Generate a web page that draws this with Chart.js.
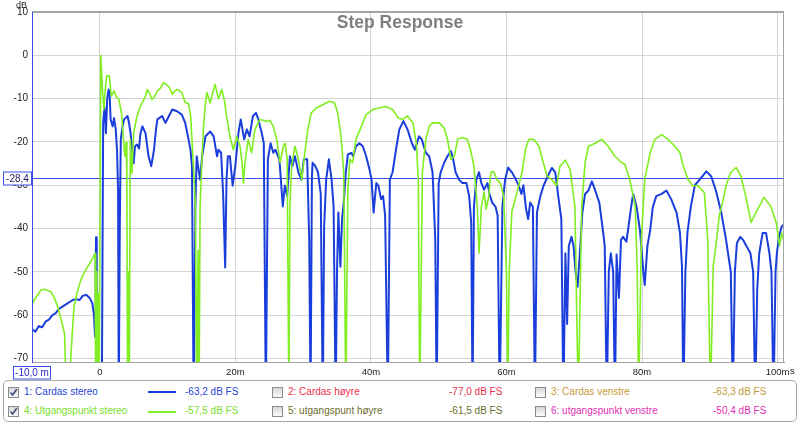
<!DOCTYPE html>
<html><head><meta charset="utf-8">
<script src="https://cdn.jsdelivr.net/npm/chart.js@4.4.1/dist/chart.umd.min.js"></script>
<style>
body{margin:0;background:#fff;font-family:"Liberation Sans",Arial,sans-serif;}
#wrap{position:relative;width:800px;height:425px;overflow:hidden;}
#c{position:absolute;left:0;top:0;}
#legend{position:absolute;left:3px;top:380px;width:792px;height:40px;border:1px solid #a8a8a8;border-radius:5px;}
.it{position:absolute;font-size:10px;white-space:nowrap;line-height:12px;}
.cb{position:absolute;width:9px;height:9px;border:1px solid #8a8a8a;background:linear-gradient(#d8d8d8,#fbfbfb);}
.cb svg{position:absolute;left:0;top:0;}
.ln{position:absolute;height:2px;}
</style></head>
<body>
<div id="wrap">
<canvas id="c" width="800" height="380" style="width:800px;height:380px"></canvas>
<div id="legend"></div>
</div>
<script>
// ---- data (time in ms, level in dB) ----
const blueT = [-10,-9.5,-9,-8.5,-8,-7.5,-7,-6.5,-6,-5.5,-5,-4.5,-4,-3.5,-3,-2.5,-2,-1.5,-1.1,-0.85,-0.7,-0.6,-0.55,-0.45,-0.35,0.3,0.5,0.7,0.9,1.1,1.3,1.45,1.6,1.9,2.1,2.35,2.55,2.7,2.8,2.95,3.1,3.4,3.6,4.1,4.3,4.55,4.8,5.0,5.2,5.5,5.8,6.0,6.3,6.75,7.0,7.2,7.6,8.0,8.3,8.5,9.2,9.7,10.2,10.7,11.4,12.1,12.6,13.1,13.4,13.6,13.85,14.1,14.3,14.5,14.8,15.1,15.6,16.3,16.8,17.3,17.5,17.9,18.2,18.5,18.7,18.9,19.2,19.6,20.0,20.45,20.8,21.3,21.7,22.1,22.6,23.05,23.4,23.9,24.2,24.5,24.8,25.2,25.6,25.9,26.5,27.0,27.3,27.65,28.05,28.4,28.8,29.3,29.75,30.1,30.6,30.9,31.1,31.3,31.4,31.8,32.2,32.6,32.9,33.1,33.4,33.8,34.2,34.5,34.8,35.0,35.2,35.5,35.75,36.0,36.3,36.6,37.1,37.4,37.8,38.3,38.8,39.3,39.8,40.1,40.4,40.8,41.1,41.5,41.8,42.1,42.5,42.8,43.2,43.7,44.2,44.8,45.4,46.05,46.5,47.1,47.5,48.1,48.6,49.1,49.5,49.7,50.0,50.3,50.8,51.3,51.8,52.1,52.5,53.0,53.5,54.1,54.5,54.8,55.0,55.2,55.55,55.95,56.3,56.7,57.2,57.5,57.9,58.4,58.7,59.0,59.4,59.8,60.25,60.8,61.4,61.8,62.2,62.5,62.9,63.2,63.5,63.9,64.2,64.5,65.0,65.5,66.1,66.7,67.2,67.7,68.1,68.4,68.7,68.95,69.2,69.6,69.9,70.2,70.5,70.9,71.2,71.6,72.1,72.6,73.1,73.7,74.2,74.5,74.8,75.1,75.4,75.75,76.0,76.25,76.6,76.9,77.2,77.7,78.0,78.4,78.7,79.2,79.7,80.2,80.4,80.8,81.2,81.6,82.1,82.9,83.6,84.3,85.1,85.6,85.9,86.1,86.4,86.7,87.2,87.8,88.5,89.5,90.2,90.9,91.7,92.4,93.1,93.4,93.7,94.0,94.5,94.9,95.4,96.0,96.4,96.7,97.0,97.3,97.8,98.3,98.8,99.1,99.4,99.7,99.9,100.2,100.6,100.95];
const blueV = [-63.2,-63.8,-62.5,-62.8,-61.5,-61,-60,-59.5,-58.5,-58,-57.5,-57,-56.5,-56.3,-56.5,-55.5,-55.3,-56,-57.2,-60,-65,-48,-42,-60,-80,-80,-15.6,-12,-18,-10,-7.9,-9,-14.8,-16.4,-14.5,-17,-22,-31,-80,-40,-19.4,-16,-14.8,-14,-15.5,-18,-22,-24.9,-21,-20.6,-21.5,-18,-16.4,-18,-21,-23.3,-25.6,-21.8,-17,-14.8,-14,-15.6,-14,-12.5,-12.9,-13.7,-15.6,-19.4,-22,-25.6,-80,-35,-23.3,-25.6,-28.7,-23.3,-18.7,-17.6,-18.7,-23.3,-21.8,-22.5,-32,-49,-28.7,-23.3,-23.3,-30.1,-25.6,-18,-14.8,-19.4,-17.1,-18.7,-14,-13.3,-14.8,-18,-20.3,-80,-24,-20.3,-22.5,-21.8,-24,-34.9,-30.1,-32.4,-23.3,-25.6,-23.3,-27,-28.7,-24,-24,-42.6,-80,-28,-24.8,-25.6,-27,-32,-80,-39.6,-28.7,-24,-28.7,-35,-80,-50,-36.3,-48.8,-37.8,-33.9,-27,-22.9,-22.5,-23.3,-21,-20.3,-21,-23.3,-26.4,-28.7,-36.3,-29.5,-30.1,-33.2,-32.5,-37,-80,-28.7,-27,-21.8,-17.1,-15.2,-17.1,-20.3,-21.8,-18.7,-19.4,-22.5,-23.3,-27,-42.6,-80,-29.5,-27,-24.8,-23.3,-22.1,-23.7,-27,-28.7,-29.5,-29.5,-32.5,-38.6,-80,-35,-28.7,-27,-29.5,-31,-29.5,-32,-34,-35,-37,-80,-35,-28.7,-25.9,-27,-28.7,-30,-32,-30,-35.5,-37.8,-34,-35,-80,-36.3,-32.5,-30,-27.9,-26,-27,-33.2,-37.8,-80,-45.7,-62,-44,-41.9,-44,-50,-53.4,-44,-36.3,-32,-31.2,-29.1,-31.2,-34,-40,-44,-80,-50,-45.7,-50,-80,-46,-56,-42.6,-41.9,-43,-39.6,-35,-32,-35,-40.4,-50,-53,-44,-40.4,-35,-32.5,-32,-31.2,-33.2,-36.3,-41,-48.8,-80,-50,-41,-35,-30,-28.7,-26.8,-27.9,-31.2,-36.3,-42.6,-50,-80,-50,-43.4,-41.9,-42.6,-44,-45.7,-50,-80,-54,-45.7,-41,-41,-45.7,-50,-80,-50,-45.7,-41.9,-39.6,-39];

const greenT = [-10,-9.5,-9,-8.7,-8.2,-7.7,-7.2,-6.7,-6.2,-5.7,-5.2,-4.9,-4.5,-4.3,-4.05,-3.8,-3.3,-2.8,-2.3,-1.8,-1.2,-0.7,-0.6,-0.45,-0.35,-0.2,-0.1,0.15,0.4,0.6,0.8,1.0,1.4,1.7,2.1,2.5,2.8,3.2,3.5,3.7,3.9,4.0,4.1,4.25,4.35,4.5,4.75,5.0,5.5,6.0,6.4,6.75,7.0,7.4,7.7,8.1,8.5,9.0,9.4,9.9,10.3,10.7,11.0,11.4,11.8,12.1,12.6,13.1,13.4,13.6,13.9,14.1,14.3,14.5,14.65,14.8,15.1,15.3,15.6,15.8,16.3,16.6,17.0,17.5,18.0,18.4,18.7,19.2,19.7,20.2,20.7,21.0,21.2,21.4,21.9,22.4,22.9,23.6,24.1,24.6,25.1,25.6,26.1,26.6,27.1,27.35,27.65,27.9,28.05,28.3,28.8,29.3,29.8,30.25,30.7,31.2,32.0,32.9,33.9,34.65,35.1,35.6,36.0,36.3,36.6,36.9,37.3,37.8,38.6,39.3,40.3,41.3,42.2,43.2,44.0,44.7,45.4,46.2,46.7,47.0,47.2,47.6,48.1,48.6,49.1,50.1,50.8,51.3,51.8,52.3,52.8,53.5,54.2,54.7,55.2,55.7,55.95,56.3,56.7,57.0,57.4,57.7,58.1,58.6,59.1,59.6,60.0,60.2,60.4,60.8,61.3,61.8,62.3,62.8,63.3,64.0,64.8,65.3,66.0,66.7,67.4,67.9,68.7,69.4,70.1,70.6,71.1,71.6,72.1,73.1,74.05,75.0,76.0,76.5,77.0,77.5,78.2,79.0,79.3,79.5,79.9,80.4,81.2,81.9,82.9,83.85,84.85,85.6,86.1,86.8,87.5,88.25,89.2,89.7,90.1,90.5,90.9,91.4,91.9,92.4,93.1,93.9,94.6,95.4,96.1,96.8,98.0,99.0,99.8,100.3,100.6,100.95];
const greenV = [-57.5,-56,-55,-54.2,-54,-54.3,-54.6,-56,-58.1,-61,-64.2,-80,-80,-70.5,-64,-58,-54.5,-51.9,-50.2,-48.8,-47.3,-45.7,-80,-50,-80,-55,-80,0,-7.9,-12.5,-8,-4.8,-4.7,-9.4,-8.2,-9.8,-10,-13.3,-19.4,-23.3,-20,-28,-80,-50,-80,-19.4,-27.2,-17.9,-14,-11.7,-10.5,-9.4,-7.9,-9,-10.2,-9.5,-8.2,-7.5,-6.3,-6.8,-7.5,-9,-8.3,-7.9,-8.2,-8.6,-10.9,-11.2,-14,-19.4,-28,-34.9,-80,-45,-80,-35,-23.3,-16.4,-11,-8.6,-11,-9,-6.7,-10,-7.9,-10.5,-14,-18.7,-21.8,-18.7,-21,-25,-29.5,-25,-19.4,-22.5,-17.1,-14.8,-15,-15.3,-15,-16.4,-19.4,-24.8,-21,-20.3,-24,-80,-35,-25.6,-21,-24,-28.7,-22.5,-17.1,-13.3,-12.1,-11.4,-10.6,-11,-13.3,-18.7,-27.2,-80,-31,-24,-24.8,-19.4,-16.4,-13.7,-12.5,-12.1,-11.8,-12.5,-14.4,-14.8,-14,-15.6,-20.3,-28.7,-80,-27,-19.4,-16.4,-15.6,-15.6,-16.8,-19.4,-24,-23.3,-19.4,-19,-19.4,-21.8,-25.6,-34.9,-45.7,-35,-31.5,-35.5,-32.5,-27,-26.8,-28.7,-29.5,-32.5,-50.3,-80,-50,-36,-33.2,-30.1,-27,-21.8,-19.4,-19.4,-21,-24,-27.9,-28.7,-30.1,-25.6,-24.2,-26.4,-34.9,-80,-35,-24.8,-21,-20.3,-19.4,-21,-23.3,-24,-24.8,-25.2,-28.7,-34.9,-50,-80,-42.6,-28.7,-22.5,-19.4,-18.3,-19.4,-21,-22.5,-25.6,-28.7,-30.1,-30.1,-31.7,-42.6,-80,-48.8,-44,-37,-33.9,-30.1,-27,-25.9,-27.9,-33.2,-38.6,-36.3,-32.8,-34.9,-38.6,-44,-41,-43];

const xTicks = [0, 20, 40, 60, 80, 100];
const yTicks = [10, 0, -10, -20, -30, -40, -50, -60, -70];
const cursorX = -10;      // ms
const cursorY = -28.4;    // dB
const cursorXLabel = '-10,0 m';
const cursorYLabel = '-28,4';
const chartTitle = 'Step Response';

// legend table
const legNames  = ['1: Cardas stereo','2: Cardas høyre','3: Cardas venstre','4: Utgangspunkt stereo','5: utgangspunt høyre','6: utgangspunkt venstre'];
const legValues = ['-63,2 dB FS','-77,0 dB FS','-63,3 dB FS','-57,5 dB FS','-61,5 dB FS','-50,4 dB FS'];
const legColors = ['#2a46d6','#e8304a','#c49a38','#78e02c','#6e6e2c','#e030b4'];
const legChecked = [true,false,false,true,false,false];

const BLUE = '#1a3edc', GREEN = '#80ee22';

function pts(ts, vs){ return ts.map((t,i)=>({x:t,y:vs[i]})); }

const deco = {
  id:'deco',
  beforeDatasetsDraw(chart){
    const {ctx, chartArea:a, scales:{x,y}} = chart;
    ctx.save();
    ctx.strokeStyle = '#3a4ee6'; ctx.lineWidth = 1;
    const cy = Math.round(y.getPixelForValue(cursorY)) + 0.5;
    ctx.beginPath(); ctx.moveTo(a.left, cy); ctx.lineTo(a.right, cy); ctx.stroke();
    ctx.restore();
  },
  afterDatasetsDraw(chart){
    const {ctx, chartArea:a} = chart;
    ctx.save();
    ctx.font = 'bold 17.5px "Liberation Sans", Arial, sans-serif';
    ctx.fillStyle = '#7f7f7f'; ctx.textAlign = 'center'; ctx.textBaseline = 'alphabetic';
    ctx.fillText(chartTitle, 400, a.top + 16);
    ctx.restore();
  },
  afterDraw(chart){
    const {ctx, chartArea:a, scales:{x,y}} = chart;
    ctx.save();
    // top & right frame
    ctx.strokeStyle = '#a4a4a4'; ctx.lineWidth = 2;
    ctx.beginPath(); ctx.moveTo(a.left, a.top); ctx.lineTo(a.right, a.top); ctx.stroke();
    ctx.lineWidth = 1;
    ctx.beginPath(); ctx.moveTo(a.right - 0.5, a.top); ctx.lineTo(a.right - 0.5, a.bottom); ctx.stroke();
    // vertical cursor (left edge)
    const cx = Math.round(x.getPixelForValue(cursorX)) + 0.5;
    ctx.strokeStyle = '#3a4ee6';
    ctx.beginPath(); ctx.moveTo(cx, a.top); ctx.lineTo(cx, a.bottom); ctx.stroke();
    // axis unit labels
    ctx.fillStyle = '#222';
    ctx.font = '9px "Liberation Sans", Arial, sans-serif';
    ctx.textAlign = 'left'; ctx.textBaseline = 'alphabetic';
    ctx.fillText('dB', 16, 8);
    ctx.font = '9.5px "Liberation Sans", Arial, sans-serif';
    ctx.textBaseline = 'top';
    ctx.fillText('s', 790, a.bottom + 5);
    // cursor value boxes
    ctx.font = '10px "Liberation Sans", Arial, sans-serif';
    ctx.textAlign = 'center'; ctx.textBaseline = 'middle';
    const cy = Math.round(y.getPixelForValue(cursorY)) + 0.5;
    ctx.fillStyle = '#fff'; ctx.strokeStyle = '#3a4ee6';
    ctx.fillRect(3.5, cy - 6.5, 28, 13); ctx.strokeRect(3.5, cy - 6.5, 28, 13);
    ctx.fillStyle = '#1a1a60'; ctx.fillText(cursorYLabel, 17.5, cy + 0.5);
    const bx = 13.5, by = a.bottom + 4.5;
    ctx.fillStyle = '#fff';
    ctx.fillRect(bx, by, 37, 12.5); ctx.strokeRect(bx, by, 37, 12.5);
    ctx.fillStyle = '#2a2ac8'; ctx.fillText(cursorXLabel, bx + 18.5, by + 6.5);
    ctx.restore();
  }
};

new Chart(document.getElementById('c'), {
  type:'line',
  data:{datasets:[
    {label:'Cardas stereo', data:pts(blueT, blueV), borderColor:BLUE, borderWidth:2, order:2, clip:0},
    {label:'Utgangspunkt stereo', data:pts(greenT, greenV), borderColor:GREEN, borderWidth:1.6, order:1, clip:0}
  ]},
  options:{
    responsive:false, animation:false, devicePixelRatio:1, parsing:false, normalized:true,
    layout:{padding:{left:0,right:16,top:12,bottom:0}},
    plugins:{legend:{display:false}, tooltip:{enabled:false}, title:{display:false}},
    elements:{point:{radius:0}, line:{tension:0, borderJoinStyle:'round'}},
    scales:{
      x:{type:'linear', min:-10, max:100.95,
        afterFit:s=>{ s.height = 18; },
        afterBuildTicks:s=>{ s.ticks = xTicks.map(v=>({value:v})); },
        ticks:{padding:5, maxRotation:0, autoSkip:false, color:'#222',
          font:{family:'"Liberation Sans", Arial, sans-serif', size:9.5},
          callback:v=> v===0 ? '0' : v + 'm'},
        grid:{color:'#d4d4d4', drawTicks:false, lineWidth:1},
        border:{display:true, color:'#a4a4a4', width:1}
      },
      y:{type:'linear', min:-70.8, max:10,
        afterFit:s=>{ s.width = 32; },
        afterBuildTicks:s=>{ s.ticks = yTicks.map(v=>({value:v})); },
        ticks:{padding:4, color:'#222', font:{family:'"Liberation Sans", Arial, sans-serif', size:10}},
        grid:{color:'#d4d4d4', drawTicks:false, lineWidth:1},
        border:{display:true, color:'#3a4ee6', width:1}
      }
    }
  },
  plugins:[deco]
});

// ---- legend ----
const wrap = document.getElementById('wrap');
const colCb = [8, 272, 535], colLab = [24, 288, 551], colVal = [185, 449, 713];
const rowY = [392, 411.5];
const checkSvg = '<svg width="9" height="9" viewBox="0 0 9 9"><path d="M1.5 4.5 L3.6 7 L7.8 1.3" fill="none" stroke="#3c4a78" stroke-width="1.6"/></svg>';
legNames.forEach((name,i)=>{
  const row = i < 3 ? 0 : 1, col = i % 3;
  const cy = rowY[row];
  const cb = document.createElement('div'); cb.className='cb';
  cb.style.left = colCb[col]+'px'; cb.style.top = (cy-5.5)+'px';
  if (legChecked[i]) cb.innerHTML = checkSvg;
  wrap.appendChild(cb);
  const lab = document.createElement('div'); lab.className='it';
  lab.style.left = colLab[col]+'px'; lab.style.top = (cy-6.5)+'px'; lab.style.color = legColors[i];
  lab.textContent = name; wrap.appendChild(lab);
  const val = document.createElement('div'); val.className='it';
  val.style.left = colVal[col]+'px'; val.style.top = (cy-6.5)+'px'; val.style.color = legColors[i];
  val.textContent = legValues[i]; wrap.appendChild(val);
  if (legChecked[i]) {
    const ln = document.createElement('div'); ln.className='ln';
    ln.style.left='148px'; ln.style.width='28px'; ln.style.top=(cy-1)+'px';
    ln.style.background = i===0 ? BLUE : GREEN; wrap.appendChild(ln);
  }
});
</script>
</body></html>
